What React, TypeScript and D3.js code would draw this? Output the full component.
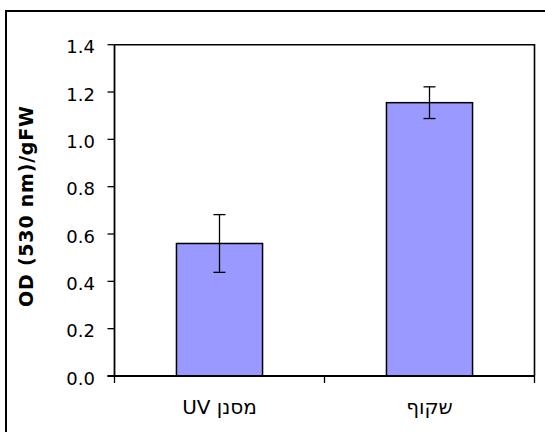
import React from "react";
import * as d3 from "d3";

// Anthocyanin content per fresh weight, by greenhouse cover type
const categories: string[] = ["מסנן UV", "שקוף"];
const means: number[] = [0.56, 1.155];
const errors: number[] = [0.122, 0.067];
const yTicks: number[] = [0, 0.2, 0.4, 0.6, 0.8, 1.0, 1.2, 1.4];
const yTitle = "OD (530 nm)/gFW";

const W = 545;
const H = 432;
const plot = { left: 114.5, right: 534.5, top: 44.7, bottom: 376 };
const FONT = "'DejaVu Sans', Verdana, sans-serif";

export default function App() {
  const x = d3
    .scaleBand<string>()
    .domain(categories)
    .range([plot.left, plot.right])
    .paddingInner(0.59)
    .paddingOuter(0.295);
  const y = d3.scaleLinear().domain([0, 1.4]).range([plot.bottom, plot.top]);
  const step = x.step();
  const bandEdges = d3.range(categories.length + 1).map((i) => plot.left + i * step);

  return (
    <svg
      width={W}
      height={H}
      style={{ position: "absolute", left: 0, top: 0, background: "#fff" }}
      fontFamily={FONT}
    >
      {/* outer chart frame */}
      <rect x={6} y={11} width={W} height={H} fill="#fff" stroke="#000" strokeWidth={2} />

      {/* plot area border (top and right) */}
      <path
        d={`M${plot.left},${plot.top}H${plot.right}V${plot.bottom}`}
        fill="none"
        stroke="#000"
        strokeWidth={1.6}
      />

      {/* bars */}
      {categories.map((c, i) => (
        <rect
          key={c}
          x={x(c)}
          y={y(means[i])}
          width={x.bandwidth()}
          height={y(0) - y(means[i])}
          fill="#9999FF"
          stroke="#000"
          strokeWidth={1.5}
        />
      ))}

      {/* error bars */}
      {categories.map((c, i) => {
        const cx = (x(c) as number) + x.bandwidth() / 2;
        const hi = y(means[i] + errors[i]);
        const lo = y(means[i] - errors[i]);
        return (
          <g key={c + "-err"} stroke="#000" strokeWidth={1.3}>
            <line x1={cx} x2={cx} y1={hi} y2={lo} />
            <line x1={cx - 6} x2={cx + 6} y1={hi} y2={hi} />
            <line x1={cx - 6} x2={cx + 6} y1={lo} y2={lo} />
          </g>
        );
      })}

      {/* y axis */}
      <line x1={plot.left} x2={plot.left} y1={plot.top} y2={plot.bottom} stroke="#000" strokeWidth={1.8} />
      {yTicks.map((t) => (
        <g key={t}>
          <line x1={plot.left - 7} x2={plot.left} y1={y(t)} y2={y(t)} stroke="#000" strokeWidth={1.3} />
          <text x={95} y={y(t) + 8.7} textAnchor="end" fontSize={18} fill="#000">
            {d3.format(".1f")(t)}
          </text>
        </g>
      ))}

      {/* x axis */}
      <line x1={plot.left - 7} x2={plot.right} y1={plot.bottom} y2={plot.bottom} stroke="#000" strokeWidth={1.8} />
      {bandEdges.map((bx, i) => (
        <line key={i} x1={bx} x2={bx} y1={plot.bottom} y2={plot.bottom + 7} stroke="#000" strokeWidth={1.3} />
      ))}
      {categories.map((c) => (
        <text
          key={c + "-lbl"}
          x={(x(c) as number) + x.bandwidth() / 2}
          y={414}
          textAnchor="middle"
          direction="rtl"
          fontSize={20}
          fill="#000"
        >
          {c}
        </text>
      ))}

      {/* y axis title */}
      <text
        transform={`translate(33,206.5) rotate(-90)`}
        textAnchor="middle"
        fontSize={19}
        fontWeight="bold"
        textLength={201}
        lengthAdjust="spacing"
        fill="#000"
      >
        {yTitle}
      </text>
    </svg>
  );
}
